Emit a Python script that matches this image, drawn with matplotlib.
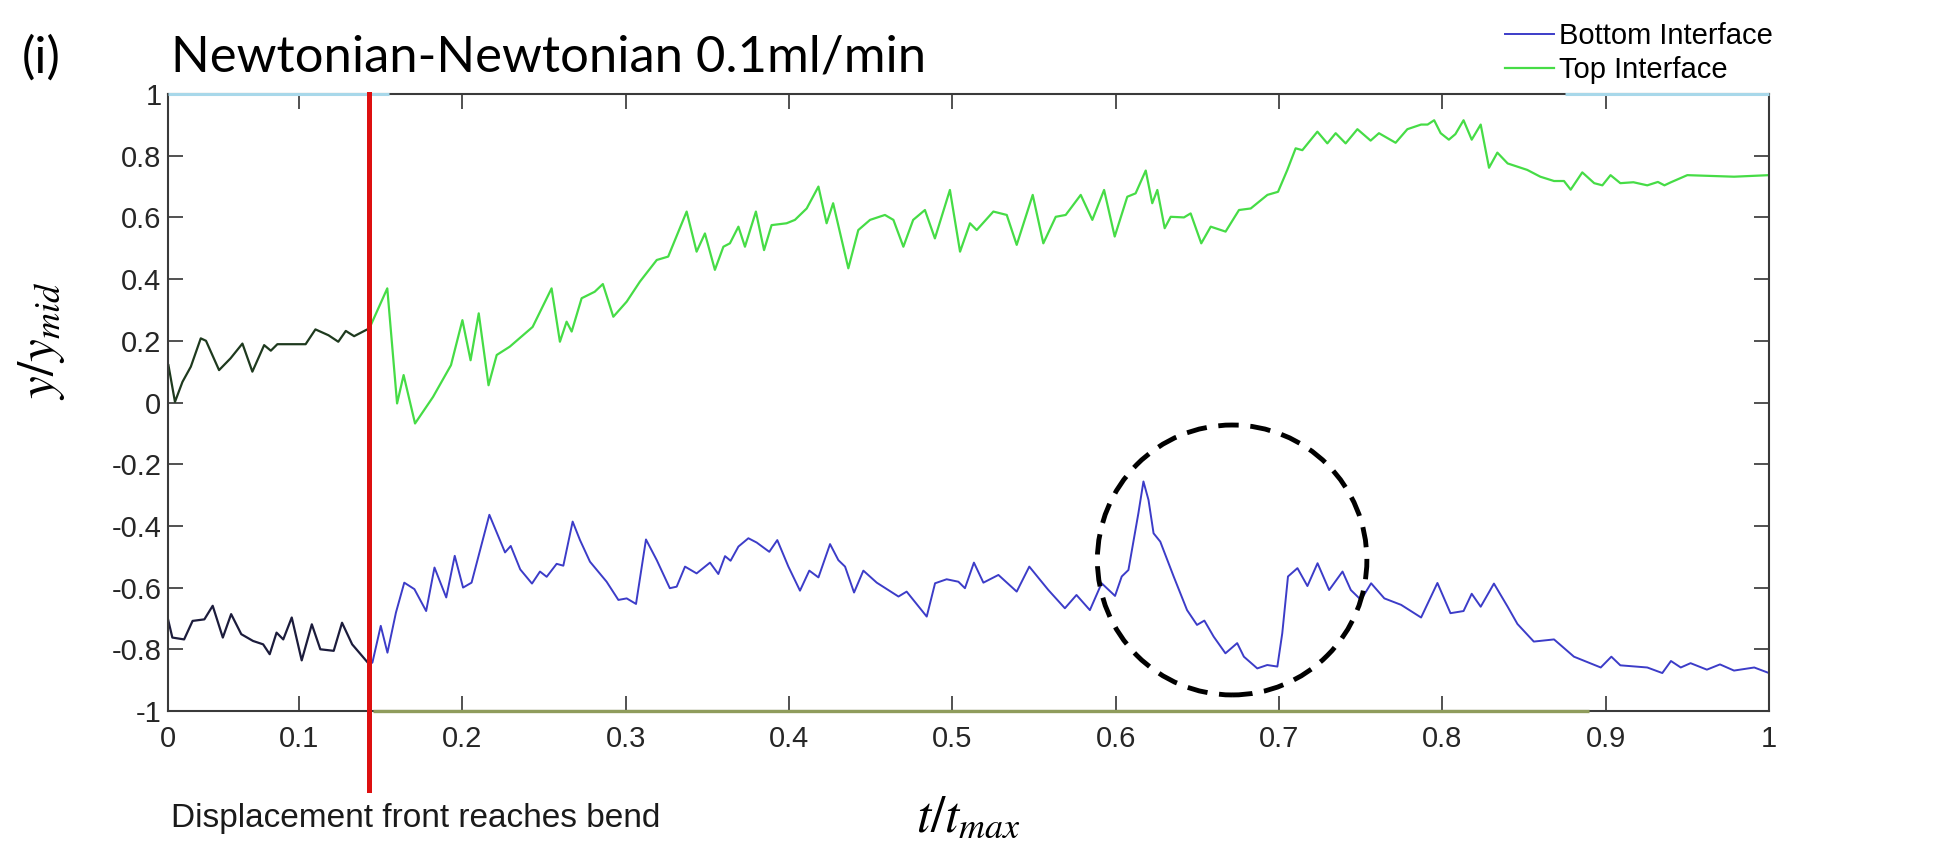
import matplotlib
matplotlib.use("Agg")
from matplotlib import pyplot as plt
from matplotlib.patches import Ellipse
import numpy as np

# time at which the displacement front reaches the bend
front_t = 0.143

# top interface, y/y_mid against t/t_max
top_t = [0.020, 0.024, 0.0286, 0.0337, 0.0398, 0.0430, 0.051, 0.058, 0.0653, 0.0714,
         0.0786, 0.0827, 0.0867, 0.104, 0.110, 0.118, 0.124, 0.1286, 0.1337, 0.141,
         0.143, 0.154, 0.160, 0.164, 0.171, 0.182, 0.193, 0.200, 0.205, 0.210,
         0.216, 0.221, 0.229, 0.243, 0.2546, 0.2597, 0.2638, 0.2669, 0.273, 0.281,
         0.286, 0.2924, 0.3006, 0.3087, 0.319, 0.326, 0.3373, 0.3434, 0.3485, 0.3546,
         0.3598, 0.3638, 0.369, 0.373, 0.3797, 0.3847, 0.3893, 0.3985, 0.4036, 0.4108,
         0.418, 0.423, 0.427, 0.4363, 0.4424, 0.4496, 0.4587, 0.4639, 0.470, 0.476,
         0.4832, 0.4893, 0.4985, 0.5047, 0.5108, 0.5149, 0.5251, 0.5333, 0.5394, 0.5492,
         0.5557, 0.5633, 0.5694, 0.5786, 0.5857, 0.5929, 0.5994, 0.6071, 0.6122, 0.6184,
         0.6224, 0.6255, 0.630, 0.6337, 0.6418, 0.6459, 0.6524, 0.6582, 0.6673, 0.6755,
         0.6827, 0.6929, 0.6994, 0.7051, 0.7102, 0.7143, 0.7235, 0.7296, 0.7347, 0.7408,
         0.748, 0.7561, 0.7612, 0.7714, 0.7786, 0.787, 0.791,
         0.795, 0.799, 0.804, 0.808, 0.813, 0.818, 0.8235, 0.8286, 0.8337, 0.840,
         0.852, 0.860, 0.8684, 0.8745, 0.8786, 0.8857, 0.893, 0.898, 0.903, 0.909,
         0.917, 0.9255, 0.932, 0.936, 0.940, 0.950, 0.9786, 1.000]
top_y = [0.121, 0.002, 0.067, 0.116, 0.208, 0.200, 0.105, 0.143, 0.191, 0.100,
         0.186, 0.168, 0.189, 0.189, 0.237, 0.218, 0.197, 0.232, 0.215, 0.235,
         0.240, 0.370, -0.003, 0.089, -0.068, 0.018, 0.121, 0.267, 0.137, 0.289,
         0.056, 0.154, 0.181, 0.245, 0.370, 0.197, 0.262, 0.230, 0.338, 0.359,
         0.384, 0.278, 0.327, 0.392, 0.462, 0.473, 0.619, 0.489, 0.548, 0.430,
         0.505, 0.516, 0.570, 0.505, 0.619, 0.494, 0.575, 0.581, 0.592, 0.629,
         0.700, 0.581, 0.646, 0.435, 0.559, 0.592, 0.608, 0.592, 0.505, 0.592,
         0.624, 0.532, 0.689, 0.489, 0.581, 0.559, 0.619, 0.608, 0.511, 0.673,
         0.516, 0.602, 0.608, 0.673, 0.592, 0.689, 0.538, 0.667, 0.678, 0.752,
         0.646, 0.689, 0.565, 0.602, 0.600, 0.613, 0.516, 0.570, 0.554, 0.624,
         0.629, 0.673, 0.683, 0.754, 0.824, 0.818, 0.878, 0.840, 0.873, 0.840,
         0.886, 0.849, 0.873, 0.842, 0.886, 0.901, 0.901,
         0.915, 0.873, 0.852, 0.870, 0.915, 0.852, 0.901, 0.761, 0.810, 0.775,
         0.754, 0.732, 0.718, 0.718, 0.690, 0.746, 0.711, 0.704, 0.737, 0.711,
         0.714, 0.704, 0.715, 0.704, 0.714, 0.737, 0.732, 0.737]

# bottom interface
bot_t = [0.019, 0.0224, 0.0296, 0.0348, 0.042, 0.0471, 0.0533, 0.0584, 0.0646, 0.0718,
         0.078, 0.082, 0.0862, 0.0903, 0.0955, 0.1016, 0.1078, 0.113, 0.1212, 0.1263,
         0.1325, 0.143, 0.1449, 0.150, 0.1541, 0.1593, 0.1644, 0.1706, 0.1778, 0.1829,
         0.1901, 0.1953, 0.2004, 0.2056, 0.2165, 0.2261, 0.2296, 0.2354, 0.2426, 0.2475,
         0.2516, 0.2577, 0.2618, 0.2675, 0.272, 0.2781, 0.2883, 0.2955, 0.3006, 0.3063,
         0.3124, 0.319, 0.327, 0.3312, 0.3363, 0.3434, 0.3516, 0.3567, 0.3608, 0.3642,
         0.369, 0.3751, 0.3802, 0.3879, 0.3928, 0.3996, 0.4067, 0.4124, 0.418, 0.4251,
         0.4302, 0.4343, 0.4398, 0.4455, 0.4537, 0.467, 0.472, 0.4843, 0.4894, 0.4965,
         0.5037, 0.5077, 0.5132, 0.519, 0.5282, 0.5394, 0.5471, 0.5588, 0.5689, 0.576,
         0.5842, 0.5914, 0.5996, 0.6037, 0.6078, 0.6139, 0.617, 0.6201, 0.6232, 0.6273,
         0.6355, 0.6437, 0.6498, 0.6543, 0.660, 0.6672, 0.6744, 0.6785, 0.6867, 0.6928,
         0.699, 0.702, 0.7055, 0.7113, 0.7174, 0.7236, 0.7307, 0.7389, 0.744, 0.7502,
         0.7564, 0.7645, 0.7748, 0.787, 0.797, 0.805, 0.813, 0.818, 0.8235, 0.8316,
         0.840, 0.846, 0.856, 0.8684, 0.8806, 0.897, 0.9035, 0.909, 0.9255, 0.9347,
         0.940, 0.946, 0.952, 0.962, 0.970, 0.9786, 0.991, 1.000]
bot_y = [-0.686, -0.762, -0.768, -0.708, -0.703, -0.659, -0.762, -0.686, -0.751, -0.773,
         -0.784, -0.816, -0.746, -0.768, -0.697, -0.836, -0.719, -0.800, -0.805, -0.714,
         -0.784, -0.849, -0.843, -0.724, -0.811, -0.681, -0.584, -0.605, -0.676, -0.535,
         -0.632, -0.497, -0.600, -0.584, -0.364, -0.486, -0.465, -0.541, -0.587, -0.548,
         -0.565, -0.523, -0.529, -0.386, -0.446, -0.516, -0.581, -0.640, -0.635, -0.653,
         -0.444, -0.511, -0.602, -0.597, -0.532, -0.554, -0.519, -0.556, -0.498, -0.513,
         -0.467, -0.440, -0.454, -0.484, -0.446, -0.532, -0.610, -0.545, -0.567, -0.459,
         -0.511, -0.532, -0.616, -0.545, -0.584, -0.629, -0.613, -0.694, -0.586, -0.573,
         -0.581, -0.602, -0.519, -0.584, -0.559, -0.613, -0.532, -0.608, -0.667, -0.624,
         -0.673, -0.586, -0.627, -0.564, -0.543, -0.359, -0.256, -0.316, -0.424, -0.451,
         -0.564, -0.673, -0.721, -0.707, -0.759, -0.813, -0.780, -0.824, -0.862, -0.851,
         -0.856, -0.748, -0.564, -0.537, -0.595, -0.521, -0.608, -0.548, -0.608, -0.640,
         -0.586, -0.635, -0.656, -0.697, -0.585, -0.683, -0.676, -0.620, -0.662, -0.587,
         -0.662, -0.718, -0.775, -0.768, -0.824, -0.859, -0.824, -0.852, -0.859, -0.877,
         -0.838, -0.859, -0.845, -0.866, -0.849, -0.869, -0.859, -0.877]

# channel wall traces along the frame
wall_top_start = [0.020, 0.875]
wall_top_end = [0.155, 1.000]
wall_bot_start = [0.145]
wall_bot_end = [0.890]

# highlighted region (centre t, centre y, width, height)
circle_t, circle_y = 0.6713, -0.5105
circle_w, circle_h = 0.165, 0.875

xtick_pos = [0.02, 0.1, 0.2, 0.3, 0.4, 0.5, 0.6, 0.7, 0.8, 0.9, 1.0]
xtick_lab = ["0", "0.1", "0.2", "0.3", "0.4", "0.5", "0.6", "0.7", "0.8", "0.9", "1"]
ytick_pos = np.round(np.arange(-1, 1.01, 0.2), 1)
ytick_lab = ["-1", "-0.8", "-0.6", "-0.4", "-0.2", "0", "0.2", "0.4", "0.6", "0.8", "1"]

plt.rcParams["font.family"] = ["Liberation Sans", "DejaVu Sans"]
plt.rcParams["mathtext.fontset"] = "stix"
plt.rcParams["lines.solid_joinstyle"] = "round"

fig = plt.figure(figsize=(19.54, 8.41), dpi=100)
ax = fig.add_axes([0.0862, 0.1546, 0.8191, 0.7336])

top_t = np.array(top_t); top_y = np.array(top_y)
bot_t = np.array(bot_t); bot_y = np.array(bot_y)
pre_top = top_t <= front_t
pre_bot = bot_t <= front_t
post_top = top_t >= front_t - 1e-9
post_bot = bot_t >= front_t - 1e-9

ax.plot(top_t[pre_top], top_y[pre_top], color="#1e3a1e", lw=1.6)
ax.plot(bot_t[pre_bot], bot_y[pre_bot], color="#1c1c3c", lw=1.6)
ax.plot(bot_t[post_bot], bot_y[post_bot], color="#3c3cc8", lw=1.4,
        label="Bottom Interface")
ax.plot(top_t[post_top], top_y[post_top], color="#46dc46", lw=1.6,
        label="Top Interface")

ax.hlines([1.0] * len(wall_top_start), wall_top_start, wall_top_end,
          color="#a8d8ea", lw=2.2, clip_on=False, zorder=5)
ax.hlines([-1.0] * len(wall_bot_start), wall_bot_start, wall_bot_end,
          color="#8f9c5c", lw=2.4, clip_on=False, zorder=5)

ax.axvline(front_t, ymin=-0.128, ymax=1.0, color="#dd1010", lw=3.6,
           clip_on=False, zorder=6)

ax.add_patch(Ellipse((circle_t, circle_y), circle_w, circle_h, fill=False,
                     ec="black", lw=3.5, ls=(0, (4.2, 2.4)), zorder=7))

ax.set_xlim(0.02, 1.0)
ax.set_ylim(-1, 1)
ax.set_xticks(xtick_pos, labels=xtick_lab)
ax.set_yticks(ytick_pos, labels=ytick_lab)
ax.tick_params(direction="in", length=11, width=1.2, color="#333333",
               labelsize=21, labelcolor="#262626", top=True, right=True)
ax.tick_params(axis="x", pad=10)
ax.tick_params(axis="y", pad=5)
for s in ax.spines.values():
    s.set_color("#3a3a3a")
    s.set_linewidth(1.5)

ax.set_xlabel(r"$t/t_{max}$", fontsize=37)
ax.xaxis.set_label_coords(0.5, -0.175)
ax.xaxis.label.set_va("center")
ax.set_ylabel(r"$y/y_{mid}$", fontsize=37)
ax.yaxis.set_label_coords(-0.079, 0.6)
ax.yaxis.label.set_va("center")

fig.text(171 / 1954, 1 - 819 / 841, "Displacement front reaches bend",
         fontsize=24, va="center", ha="left", color="#1a1a1a")
fig.text(22 / 1954, 1 - 58 / 841, "(i)", fontsize=36, family="Lato",
         va="center", ha="left")
fig.text(171 / 1954, 1 - 58 / 841, "Newtonian-Newtonian 0.1ml/min", fontsize=36.5,
         family="Lato", va="center", ha="left")

fig.legend(loc="upper left", bbox_to_anchor=(1505 / 1954, 1 - 22 / 841),
           frameon=False, fontsize=21, handlelength=1.68, handletextpad=0.17,
           labelspacing=0.22, borderpad=0, borderaxespad=0)

fig.savefig("out.png", dpi=100)
